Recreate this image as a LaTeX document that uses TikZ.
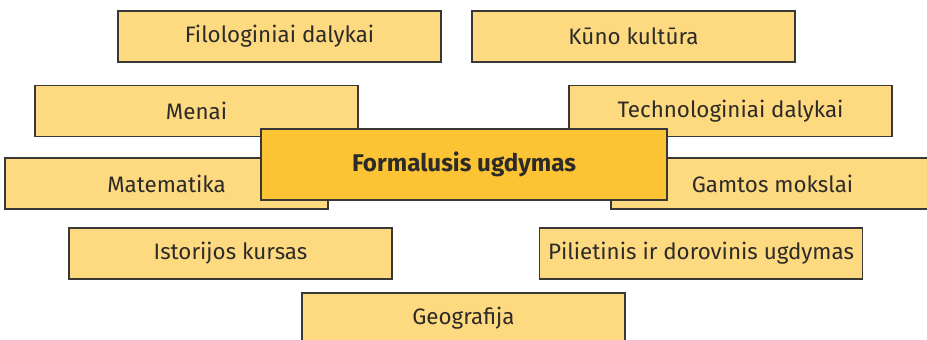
\documentclass[tikz,border=0pt]{standalone}
\usepackage{fontspec}
\setmainfont{Fira Sans}
\definecolor{subjfill}{RGB}{253,217,128}
\definecolor{mainfill}{RGB}{252,196,52}
\definecolor{boxline}{RGB}{58,56,54}
\definecolor{boxtext}{RGB}{45,43,40}
\tikzset{
  subject/.style={draw=boxline, line width=1.1pt, fill=subjfill, text=boxtext,
    minimum width=8.075cm, minimum height=1.275cm, inner sep=0pt,
    font=\fontsize{15.9}{18}\selectfont},
  mainbox/.style={subject, fill=mainfill, minimum width=10.15cm, minimum height=1.775cm,
    font=\fontsize{17.2}{20}\selectfont\bfseries}
}
\begin{document}
\begin{tikzpicture}[x=0.025cm, y=-0.025cm]%
\useasboundingbox (0, 0) rectangle (927, 340);%
\clip (0, 0) rectangle (927, 340);%
\fill[white] (0, 0) rectangle (927, 340);%
\node[subject] (filo) at (279.5, 36.5) {Filologiniai dalykai};%
\node[subject] (kuno) at (633.5, 36.5) {Kūno kultūra};%
\node[subject] (menai) at (196.5, 111) {Menai};%
\node[subject] (tech) at (730.5, 111) {Technologiniai dalykai};%
\node[subject] (mate) at (166.5, 183.5) {Matematika};%
\node[subject] (gamtos) at (772.5, 183.5) {Gamtos mokslai};%
\node[subject] (istor) at (230.5, 253.5) {Istorijos kursas};%
\node[subject] (pilie) at (701, 253.5) {Pilietinis ir dorovinis ugdymas};%
\node[subject] (geogr) at (463.5, 318.5) {Geografija};%
\node[mainbox] (formal) at (464, 164.5) {Formalusis ugdymas};%
\end{tikzpicture}
\end{document}
